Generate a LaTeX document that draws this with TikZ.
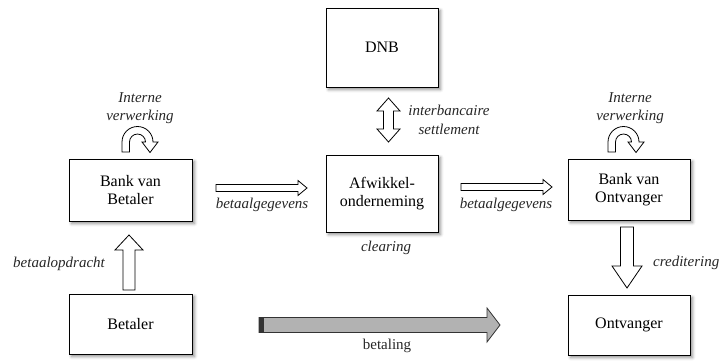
\documentclass[tikz,border=0pt]{standalone}
\usepackage{fontspec}
\setmainfont{Liberation Serif}
\usetikzlibrary{calc,shadows.blur}
% rightward block arrow: #1 tail, #2 tip, #3 shaft half, #4 head half, #5 head length, #6 style
\newcommand\hblock[6]{%
  \draw[#6] ($(#1)+(0,-#3)$) -- ($(#2)+(-#5,-#3)$) -- ($(#2)+(-#5,-#4)$) -- (#2)
    -- ($(#2)+(-#5,#4)$) -- ($(#2)+(-#5,#3)$) -- ($(#1)+(0,#3)$) -- cycle;}
% downward block arrow (tip below tail)
\newcommand\vdown[6]{%
  \draw[#6] ($(#1)+(-#3,0)$) -- ($(#2)+(-#3,-#5)$) -- ($(#2)+(-#4,-#5)$) -- (#2)
    -- ($(#2)+(#4,-#5)$) -- ($(#2)+(#3,-#5)$) -- ($(#1)+(#3,0)$) -- cycle;}
% upward block arrow (tip above tail)
\newcommand\vup[6]{%
  \draw[#6] ($(#1)+(-#3,0)$) -- ($(#2)+(-#3,#5)$) -- ($(#2)+(-#4,#5)$) -- (#2)
    -- ($(#2)+(#4,#5)$) -- ($(#2)+(#3,#5)$) -- ($(#1)+(#3,0)$) -- cycle;}
% vertical double block arrow: #1 top tip, #2 bottom tip
\newcommand\vdouble[6]{%
  \draw[#6] (#1) -- ($(#1)+(#4,#5)$) -- ($(#1)+(#3,#5)$) -- ($(#2)+(#3,-#5)$)
    -- ($(#2)+(#4,-#5)$) -- (#2) -- ($(#2)+(-#4,-#5)$) -- ($(#2)+(-#3,-#5)$)
    -- ($(#1)+(-#3,#5)$) -- ($(#1)+(-#4,#5)$) -- cycle;}
\begin{document}
\begin{tikzpicture}[x=1pt,y=-1pt,
  box/.style={draw, line width=0.8pt, fill=white, inner sep=0pt, align=center,
    font=\fontsize{16}{18.5}\selectfont,
    blur shadow={shadow xshift=2.5pt, shadow yshift=-2.5pt, shadow blur radius=3pt, shadow opacity=45}},
  lbl/.style={font=\fontsize{15}{18.5}\selectfont\itshape, align=center, inner sep=0pt, text=black!85},
  hollow/.style={draw=black, line width=0.8pt, fill=white, line join=miter},
  grayarrow/.style={draw=black!80, line width=0.8pt, fill=black!30, line join=miter},
]
\useasboundingbox (0,0) rectangle (722,360);

% boxes
\node[box, minimum width=112pt, minimum height=79pt] (dnb) at (382,47.5) {DNB};
\node[box, minimum width=112pt, minimum height=77pt] (afw) at (382,193.5) {Afwikkel-\\onderneming};
\node[box, minimum width=123pt, minimum height=62pt] (bvb) at (130.5,190) {Bank van\\Betaler};
\node[box, minimum width=122pt, minimum height=61pt] (bvo) at (629,189.5) {Bank van\\Ontvanger};
\node[box, minimum width=123pt, minimum height=60pt] (bet) at (130.5,324) {Betaler};
\node[box, minimum width=122pt, minimum height=60pt] (ont) at (629,325) {Ontvanger};

% arrow end points
\coordinate (g1s) at (216,188);   \coordinate (g1e) at (307,188);
\coordinate (g2s) at (461,187);   \coordinate (g2e) at (552,187);
\coordinate (st) at (388.5,98);   \coordinate (sb) at (388.5,142);
\coordinate (ops) at (129,290);   \coordinate (ope) at (129,235);
\coordinate (crs) at (627,227);   \coordinate (cre) at (627,288);
\coordinate (bls) at (259,325);   \coordinate (ble) at (500,325);

\hblock{g1s}{g1e}{3.5}{7.5}{9}{hollow}
\hblock{g2s}{g2e}{3.5}{7.5}{9}{hollow}
\vdouble{st}{sb}{5}{11.5}{13}{hollow}
\vup{ops}{ope}{6}{14}{15}{hollow}
\vdown{crs}{cre}{6.5}{15}{22}{hollow}
\hblock{bls}{ble}{7.5}{17}{13}{grayarrow}
\fill[black!80] ($(bls)+(0,-7.5)$) rectangle ($(bls)+(5,7.5)$);

% curved arrows (interne verwerking)
\foreach \dx/\nm in {0/cl, 486/cr}{
  \begin{scope}[xshift=\dx pt]
    \draw[hollow] (122,152) -- (122,142) arc[start angle=180, end angle=360, radius=15.5]
      -- (158,142) -- (150,152.5) -- (142,142) -- (145.5,142)
      arc[start angle=360, end angle=180, radius=8] -- (129.5,152) -- cycle;
  \end{scope}
}

% labels
\node[lbl] (iv1) at (140,108) {Interne\\verwerking};
\node[lbl] (iv2) at (630,108) {Interne\\verwerking};
\node[lbl] (ibs) at (449,120) {interbancaire\\settlement};
\node[lbl] (bg1) at (262,205) {betaalgegevens};
\node[lbl] (bg2) at (506,205) {betaalgegevens};
\node[lbl] (clr) at (386,248) {clearing};
\node[lbl, anchor=west] (cred) at (653,263) {creditering};
\node[lbl] (bop) at (59,264) {betaalopdracht};
\node[font=\fontsize{15}{18}\selectfont, inner sep=0pt, text=black!85] (btl) at (387,346) {betaling};
\end{tikzpicture}
\end{document}
